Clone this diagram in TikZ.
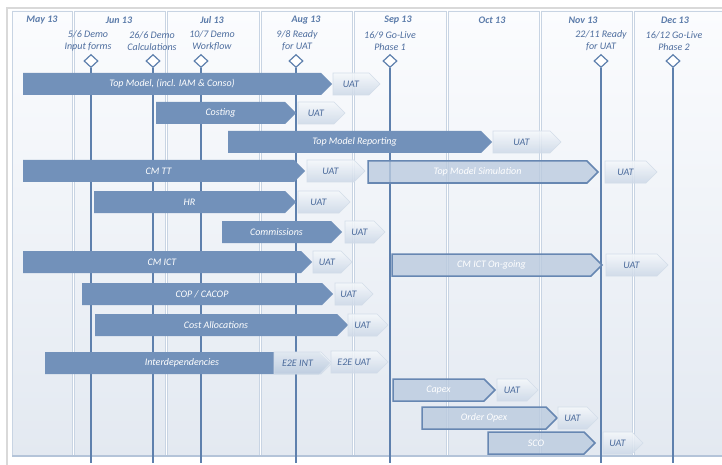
\documentclass[tikz,border=0pt]{standalone}
\usepackage{fontspec}
\setmainfont{Carlito}
\usetikzlibrary{shapes.symbols,shapes.geometric}

\definecolor{barDark}{HTML}{7291BA}
\definecolor{barLight}{HTML}{BBCBDF}
\definecolor{barEdge}{HTML}{6787B2}
\definecolor{msLine}{HTML}{5E80AD}
\definecolor{msText}{HTML}{4D6D9E}
\definecolor{monText}{HTML}{5B7BAA}
\definecolor{colEdge}{HTML}{C8D4E3}
\definecolor{colTop}{HTML}{FBFCFE}
\definecolor{colBot}{HTML}{E3E9F1}
\definecolor{colBase}{HTML}{B4C4D9}
\definecolor{uatTop}{HTML}{F5F8FB}
\definecolor{uatBot}{HTML}{CCD8E7}
\definecolor{uatEdge}{HTML}{D3DDE9}
\definecolor{uatText}{HTML}{4A6A9B}
\definecolor{frameGray}{HTML}{D9D9D9}

\tikzset{
  txt/.style={font=\fontsize{10}{12}\selectfont\itshape, inner sep=0pt},
  chev/.style={shape=signal, signal to=east, signal from=nowhere,
    signal pointer angle=90, minimum height=22pt, inner sep=0pt,
    font=\fontsize{10}{12}\selectfont\itshape},
  darkbar/.style={chev, fill=barDark, text=white},
  lightbar/.style={chev, fill=barLight, fill opacity=0.8, text opacity=1,
    draw=barEdge, line width=1.5pt, text=white},
  uatbox/.style={chev, top color=uatTop, bottom color=uatBot, fill opacity=0.85,
    text opacity=1, draw=uatEdge, line width=0.6pt, text=uatText},
  month/.style={txt, font=\fontsize{10}{12}\selectfont\bfseries\itshape, text=monText},
  mslabel/.style={txt, align=center, text=msText},
  msmark/.style={shape=diamond, minimum width=14pt, minimum height=13pt, inner sep=0pt,
    draw=msLine, fill=white, line width=1.2pt},
  msline/.style={draw=msLine, line width=1.3pt},
  column/.style={top color=colTop, bottom color=colBot, draw=colEdge, line width=0.8pt},
}

% one chevron-shaped bar: name, style, left x, right x, centre y, text
% (the signal shape is centred on its body, the 11pt point sticks out east)
\newcommand\ganttbar[6]{%
  \node[#2, minimum width={#4-#3}] (#1) at ({(#3+#4)/2-5.5},#5) {#6};}

% one milestone: name, x, label x, first line, second line
\newcommand\milestone[5]{%
  \node[mslabel] (#1l) at (#3,41) {#4\\#5};
  \node[msmark] (#1) at (#2,61) {};
  \coordinate (#1e) at (#2,463);
  \draw[msline] (#1.south) -- (#1e);}

\begin{document}
\begin{tikzpicture}[x=1pt,y=-1pt]
\useasboundingbox (0,0) rectangle (722,465);
\fill[white] (0,0) rectangle (722,465);

% outer frame
\draw[frameGray, line width=1.8pt] (7,465) -- (7,8) -- (722,8);

% month columns
\foreach \a/\b/\m/\c in {12/72/May 13/42, 74/165/Jun 13/119, 167/259/Jul 13/212,
    261/352/Aug 13/306, 354/446/Sep 13/398, 448/539/Oct 13/492,
    541/632/Nov 13/583, 634/726/Dec 13/675}{
  \path[column] (\a,11) rectangle (\b,456);
  \node[month] at (\c,20) {\m};
}
\draw[colBase, line width=1.5pt] (12,456) -- (722,456);

% milestones
\milestone{ma}{91}{88}{5/6 Demo}{Input forms}
\milestone{mb}{153}{152}{26/6 Demo}{Calculations}
\milestone{mc}{201}{212}{10/7 Demo}{Workflow}
\milestone{md}{296}{297}{9/8 Ready}{for UAT}
\milestone{me}{390}{390}{16/9 Go-Live}{Phase 1}
\milestone{mf}{601}{601}{22/11 Ready}{for UAT}
\milestone{mg}{673}{674}{16/12 Go-Live}{Phase 2}

% work streams
\ganttbar{topm}{darkbar}{23}{332}{84}{Top Model, (incl. IAM \& Conso)}
\ganttbar{uatA}{uatbox}{333}{380}{84}{UAT}

\ganttbar{cost}{darkbar}{156}{296}{113}{Costing}
\ganttbar{uatB}{uatbox}{298}{345}{113}{UAT}

\ganttbar{tmr}{darkbar}{228}{492}{142}{Top Model Reporting}
\ganttbar{uatC}{uatbox}{493}{561}{142}{UAT}

\ganttbar{cmtt}{darkbar}{23}{305}{171}{CM TT}
\ganttbar{uatD}{uatbox}{307}{365}{171}{UAT}
\ganttbar{tms}{lightbar}{368}{598}{172}{Top Model Simulation}
\ganttbar{uatE}{uatbox}{605}{657}{172}{UAT}

\ganttbar{hr}{darkbar}{94}{296}{202}{HR}
\ganttbar{uatF}{uatbox}{298}{350}{202}{UAT}

\ganttbar{comm}{darkbar}{222}{342}{232}{Commissions}
\ganttbar{uatG}{uatbox}{345}{385}{232}{UAT}

\ganttbar{cmict}{darkbar}{23}{312}{262}{CM ICT}
\ganttbar{uatH}{uatbox}{313}{352}{262}{UAT}
\ganttbar{cmog}{lightbar}{392}{602}{265}{CM ICT On-going}
\ganttbar{uatI}{uatbox}{606}{668}{265}{UAT}

\ganttbar{cop}{darkbar}{82}{333}{294}{COP / CACOP}
\ganttbar{uatJ}{uatbox}{335}{373}{294}{UAT}

\ganttbar{ca}{darkbar}{95}{348}{325}{Cost Allocations}
\ganttbar{uatK}{uatbox}{348}{388}{325}{UAT}

\ganttbar{inter}{darkbar}{45}{330}{363}{Interdependencies}
\ganttbar{eint}{uatbox}{274}{332}{363}{E2E INT}
\ganttbar{euat}{uatbox}{331}{388}{362}{E2E UAT}

\ganttbar{capex}{lightbar}{393}{495}{390}{Capex}
\ganttbar{uatL}{uatbox}{497}{538}{390}{UAT}

\ganttbar{opex}{lightbar}{422}{557}{418}{Order Opex}
\ganttbar{uatM}{uatbox}{558}{598}{418}{UAT}

\ganttbar{sco}{lightbar}{488}{595}{443}{SCO}
\ganttbar{uatN}{uatbox}{603}{643}{443}{UAT}
\end{tikzpicture}
\end{document}
